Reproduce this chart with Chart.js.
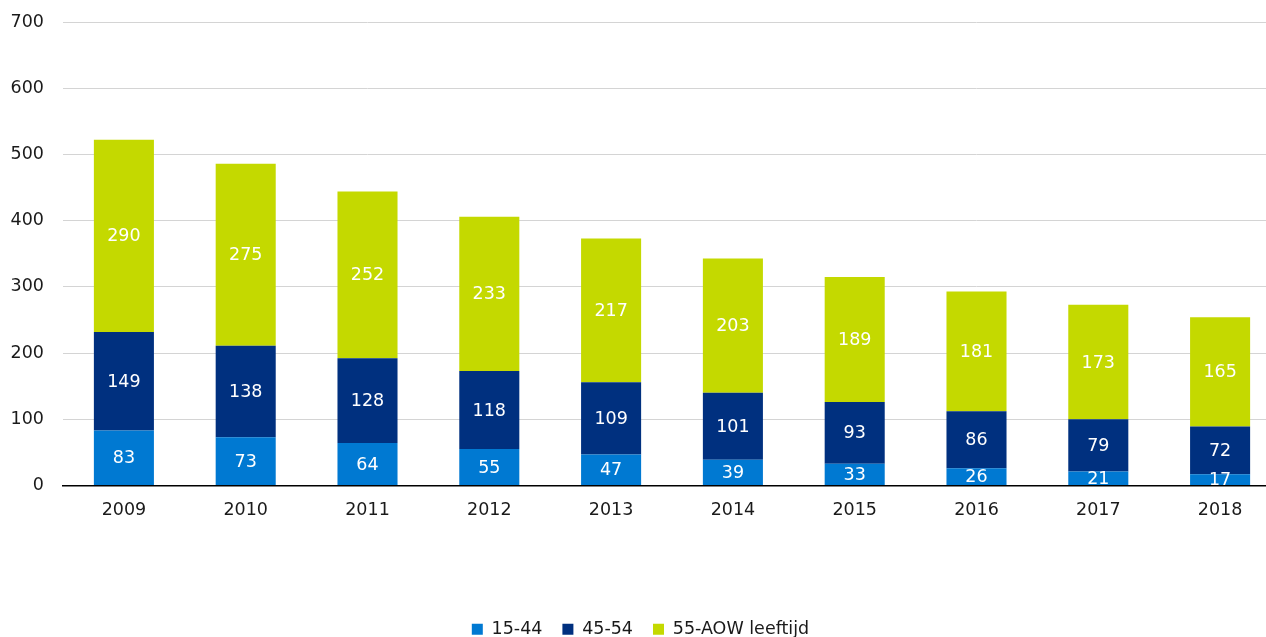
<!DOCTYPE html>
<html>
<head>
<meta charset="utf-8">
<script src="https://cdn.jsdelivr.net/npm/chart.js@4/dist/chart.umd.min.js"></script>
<style>
    html, body { margin: 0; padding: 0; background: #fff; overflow: hidden; }
    #wrap { width: 1281px; height: 648px; position: relative; }
</style>
</head>
<body>
<div id="wrap"><canvas id="chart"></canvas></div>
<script>
let years = ['2009', '2010', '2011', '2012', '2013', '2014', '2015', '2016', '2017', '2018']
let young = [83, 73, 64, 55, 47, 39, 33, 26, 21, 17]
let middle = [149, 138, 128, 118, 109, 101, 93, 86, 79, 72]
let older = [290, 275, 252, 233, 217, 203, 189, 181, 173, 165]
let seriesNames = ['15-44', '45-54', '55-AOW leeftijd']
let yTicks = [0, 100, 200, 300, 400, 500, 600, 700]

let fontFamily = "'DejaVu Sans', Verdana, sans-serif"

// white value labels in the middle of every segment
let valueLabels = {
    id: 'valueLabels',
    afterDatasetsDraw(chart) {
        let ctx = chart.ctx
        ctx.save()
        ctx.fillStyle = '#ffffff'
        ctx.font = `17.5px ${fontFamily}`
        ctx.textAlign = 'center'
        ctx.textBaseline = 'middle'
        chart.data.datasets.forEach((ds, i) => {
            let meta = chart.getDatasetMeta(i)
            meta.data.forEach((bar, j) => {
                let mid = (bar.y + bar.base) / 2
                ctx.fillText(ds.data[j], bar.x, mid + 1)
            })
        })
        ctx.restore()
    }
}

let ctx = document.getElementById('chart').getContext('2d')
let myChart = new Chart(ctx, {
    type: 'bar',
    data: {
        labels: years,
        datasets: [
            { label: seriesNames[0], data: young, backgroundColor: '#0079d2' },
            { label: seriesNames[1], data: middle, backgroundColor: '#00307f' },
            { label: seriesNames[2], data: older, backgroundColor: '#c4d900' }
        ]
    },
    options: {
        responsive: true,
        maintainAspectRatio: false,
        animation: false,
        layout: { padding: { top: 22, left: 0, right: 0, bottom: 0 } },
        datasets: {
            bar: { categoryPercentage: 1, barPercentage: 0.493, borderWidth: 0 }
        },
        scales: {
            x: {
                stacked: true,
                grid: { display: false, drawTicks: false },
                border: { display: true, color: '#000000', width: 1.5 },
                ticks: { color: '#1a1a1a', padding: 14, font: { family: fontFamily, size: 17.5 } },
                afterFit: (scale) => { scale.height = 115 }
            },
            y: {
                stacked: true,
                min: 0,
                max: 700,
                afterBuildTicks: (scale) => { scale.ticks = yTicks.map(v => ({ value: v })) },
                grid: { color: '#d4d4d4', lineWidth: 1, drawTicks: false },
                border: { display: false },
                ticks: { color: '#1a1a1a', padding: 19, font: { family: fontFamily, size: 17.5 } },
                afterFit: (scale) => {
                    scale.width = 63
                    scale.paddingTop = 0
                    scale.paddingBottom = 0
                }
            }
        },
        plugins: {
            legend: {
                display: true,
                position: 'bottom',
                labels: {
                    color: '#1a1a1a',
                    boxWidth: 11,
                    boxHeight: 11,
                    padding: 20,
                    font: { family: fontFamily, size: 17.5 }
                }
            },
            tooltip: { enabled: false }
        }
    },
    plugins: [valueLabels]
})
</script>
</body>
</html>
